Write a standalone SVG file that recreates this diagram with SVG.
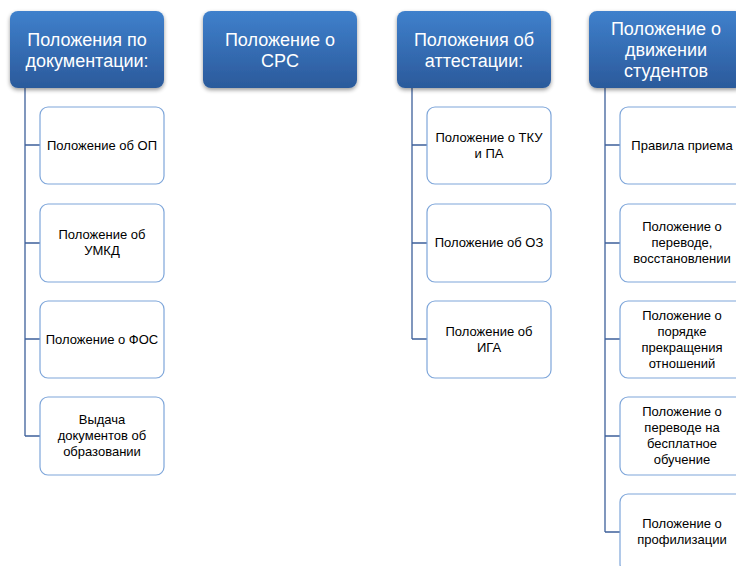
<svg xmlns="http://www.w3.org/2000/svg" width="736" height="566" viewBox="0 0 736 566">
<defs>
<linearGradient id="hg" x1="0" y1="0" x2="0" y2="1">
<stop offset="0" stop-color="#3f80cc"/>
<stop offset="1" stop-color="#2b5a9b"/>
</linearGradient>
<filter id="sh" x="-10%" y="-10%" width="120%" height="130%">
<feGaussianBlur in="SourceAlpha" stdDeviation="2"/>
<feOffset dx="0" dy="2" result="b"/>
<feComponentTransfer><feFuncA type="linear" slope="0.4"/></feComponentTransfer>
<feMerge><feMergeNode/><feMergeNode in="SourceGraphic"/></feMerge>
</filter>
</defs>
<style>
.h rect{fill:url(#hg);filter:url(#sh)}
.h text{fill:#fff;font-family:"Liberation Sans",Arial,sans-serif;font-size:18px;text-anchor:middle}
.c rect{fill:#fff;stroke:#7ea6da;stroke-width:1.2}
.c text{fill:#000;font-family:"Liberation Sans",Arial,sans-serif;font-size:13px;text-anchor:middle}
.conn path{fill:none;stroke:#3e609a;stroke-width:1.3}
</style>
<rect width="736" height="566" fill="#fff"/>
<g class="conn">
<path d="M25,88 V436 M25,145 H40 M25,243 H40 M25,339 H40 M25,436 H40"/>
<path d="M412,88 V339 M412,145 H427 M412,243 H427 M412,339 H427"/>
<path d="M605,88 V532 M605,145 H620 M605,243 H620 M605,339 H620 M605,436 H620 M605,532 H620"/>
</g>
<g id="h1" class="h"><rect x="10" y="11" width="154" height="77" rx="8"/><text x="87" y="46">Положения по</text><text x="87" y="67">документации:</text></g>
<g id="h2" class="h"><rect x="203" y="11" width="154" height="77" rx="8"/><text x="280" y="46">Положение о</text><text x="280" y="67">СРС</text></g>
<g id="h3" class="h"><rect x="397" y="11" width="154" height="77" rx="8"/><text x="474" y="46">Положения об</text><text x="474" y="67">аттестации:</text></g>
<g id="h4" class="h"><rect x="589" y="11" width="154" height="77" rx="8"/><text x="666" y="35">Положение о</text><text x="666" y="56">движении</text><text x="666" y="77">студентов</text></g>

<g id="c11" class="c"><rect x="40" y="107" width="124" height="77" rx="8"/><text x="102" y="150">Положение об ОП</text></g>
<g id="c12" class="c"><rect x="40" y="204" width="124" height="78" rx="8"/><text x="102" y="239">Положение об</text><text x="102" y="255">УМКД</text></g>
<g id="c13" class="c"><rect x="40" y="301" width="124" height="77" rx="8"/><text x="102" y="344">Положение о ФОС</text></g>
<g id="c14" class="c"><rect x="40" y="397" width="124" height="78" rx="8"/><text x="102" y="424">Выдача</text><text x="102" y="440">документов об</text><text x="102" y="456">образовании</text></g>

<g id="c31" class="c"><rect x="427" y="107" width="124" height="77" rx="8"/><text x="489" y="142">Положение о ТКУ</text><text x="489" y="158">и ПА</text></g>
<g id="c32" class="c"><rect x="427" y="204" width="124" height="78" rx="8"/><text x="489" y="247">Положение об ОЗ</text></g>
<g id="c33" class="c"><rect x="427" y="301" width="124" height="77" rx="8"/><text x="489" y="336">Положение об</text><text x="489" y="352">ИГА</text></g>

<g id="c41" class="c"><rect x="620" y="107" width="124" height="77" rx="8"/><text x="682" y="150">Правила приема</text></g>
<g id="c42" class="c"><rect x="620" y="204" width="124" height="78" rx="8"/><text x="682" y="231">Положение о</text><text x="682" y="247">переводе,</text><text x="682" y="263">восстановлении</text></g>
<g id="c43" class="c"><rect x="620" y="301" width="124" height="77" rx="8"/><text x="682" y="320">Положение о</text><text x="682" y="336">порядке</text><text x="682" y="352">прекращения</text><text x="682" y="368">отношений</text></g>
<g id="c44" class="c"><rect x="620" y="397" width="124" height="78" rx="8"/><text x="682" y="416">Положение о</text><text x="682" y="432">переводе на</text><text x="682" y="448">бесплатное</text><text x="682" y="464">обучение</text></g>
<g id="c45" class="c"><rect x="620" y="494" width="124" height="78" rx="8"/><text x="682" y="528">Положение о</text><text x="682" y="544">профилизации</text></g>
</svg>
